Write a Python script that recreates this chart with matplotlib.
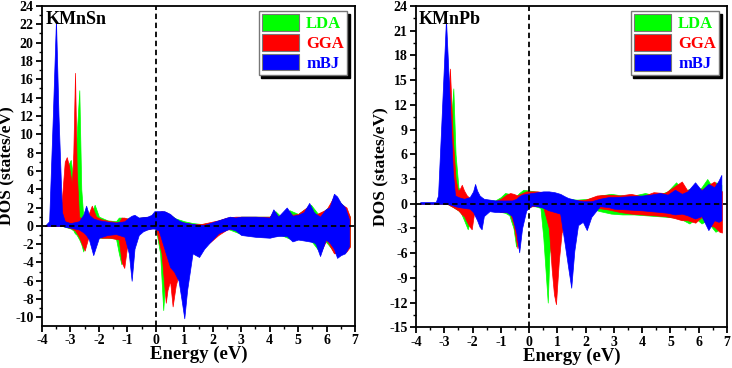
import matplotlib.pyplot as plt
from matplotlib.ticker import MultipleLocator
from matplotlib.patches import Patch

plt.rcParams['font.family'] = ['Liberation Serif', 'DejaVu Serif']
plt.rcParams['font.weight'] = 'bold'
plt.rcParams['axes.unicode_minus'] = False

# ---- KMnSn (left) ----
sn_mbj_e = [-3.9, -3.75, -3.62, -3.51, -3.42, -3.3, -3.2, -3.0, -2.7, -2.55, -2.45, -2.35, -2.2, -2.0, -1.7,
            -1.4, -1.1, -0.95, -0.85, -0.75, -0.6, -0.45, -0.3, -0.15, -0.05, 0.1, 0.3, 0.5, 0.64, 0.8, 0.9,
            1.0, 1.1, 1.29, 1.4, 1.52, 1.7, 1.9, 2.2, 2.6, 2.8, 3.0, 3.5, 4.0, 4.13, 4.3, 4.6, 4.8, 5.0, 5.2,
            5.39, 5.55, 5.62, 5.77, 5.97, 6.1, 6.26, 6.37, 6.5, 6.65, 6.79]
sn_mbj_up = [0, 0.5, 12, 22.5, 12, 1.5, 0.5, 0.3, 0.5, 1.2, 2.2, 1.2, 0.8, 0.6, 0.45, 0.35, 0.5, 0.9, 1.1,
             1.2, 0.9, 0.95, 1.0, 1.2, 1.6, 1.6, 1.6, 1.3, 0.9, 0.6, 0.45, 0.35, 0.3, 0.2, 0.15, 0.1, 0.1,
             0.3, 0.6, 1.0, 0.9, 1.0, 1.0, 0.9, 1.8, 1.0, 2.0, 1.1, 1.2, 1.5, 2.5, 1.5, 1.3, 1.0, 1.8, 2.0,
             3.5, 3.2, 2.5, 2.0, 0.7]
sn_mbj_dn = [0, 0, 0, 0, 0, 0, -0.1, -0.2, -0.4, -0.7, -1.0, -1.5, -3.2, -1.3, -1.0, -0.9, -1.2, -3.0, -6.0,
             -2.5, -1.0, -0.6, -0.4, -0.3, -0.3, -0.5, -2.5, -4.5, -5.0, -6.0, -8.0, -10.1, -7.0, -3.0, -3.2,
             -3.4, -2.5, -1.8, -0.8, -0.3, -0.5, -1.0, -1.2, -1.3, -1.2, -1.1, -1.1, -1.7, -1.5, -1.6, -1.7,
             -1.8, -2.0, -3.3, -1.5, -1.8, -2.5, -3.5, -3.2, -3.0, -2.2]

sn_gga_e = [-3.9, -3.4, -3.3, -3.2, -3.13, -3.05, -2.95, -2.9, -2.84, -2.78, -2.7, -2.6, -2.5, -2.35, -2.25,
            -2.1, -1.9, -1.6, -1.3, -1.2, -1.11, -1.0, -0.8, -0.5, -0.2, 0.0, 0.2, 0.35, 0.41, 0.5, 0.59,
            0.7, 0.76, 0.9, 1.1, 1.3, 1.6, 1.9, 2.2, 2.5, 2.8, 3.0, 3.5, 4.0, 4.15, 4.3, 4.6, 4.8, 5.0, 5.39,
            5.6, 5.8, 6.0, 6.26, 6.5, 6.7, 6.82]
sn_gga_up = [0, 0, 3.0, 7.0, 7.5, 6.5, 4.5, 8.0, 16.7, 6.0, 1.0, 0.8, 0.7, 1.4, 2.2, 1.0, 0.7, 0.5, 0.4, 0.9,
             0.9, 0.8, 0.8, 0.9, 1.0, 1.4, 1.6, 1.5, 1.4, 1.2, 1.0, 0.7, 0.5, 0.4, 0.3, 0.2, 0.2, 0.4, 0.6,
             0.9, 1.0, 1.0, 1.0, 1.0, 1.6, 1.0, 1.7, 1.2, 1.3, 2.2, 1.2, 1.5, 1.8, 3.2, 2.4, 2.0, 1.0]
sn_gga_dn = [0, 0, 0, 0, -0.1, -0.2, -0.3, -0.4, -0.5, -0.8, -1.2, -2.0, -2.7, -1.0, -0.9, -1.2, -1.3, -1.3,
             -1.5, -4.0, -4.6, -2.0, -0.8, -0.5, -0.3, -0.2, -3.0, -8.4, -7.0, -6.0, -8.8, -6.5, -5.8, -4.0,
             -3.0, -2.5, -2.2, -1.8, -1.0, -0.4, -0.3, -0.8, -1.1, -1.2, -1.1, -1.0, -1.0, -1.5, -1.4, -1.5,
             -1.6, -2.8, -1.5, -3.0, -3.0, -2.8, -2.3]

sn_lda_e = [-3.9, -3.3, -3.2, -3.1, -2.99, -2.9, -2.85, -2.78, -2.69, -2.62, -2.55, -2.45, -2.3, -2.15, -2.0,
            -1.7, -1.4, -1.3, -1.21, -1.1, -0.9, -0.5, -0.2, 0.0, 0.15, 0.26, 0.35, 0.5, 0.7, 1.0, 1.3, 1.6,
            1.9, 2.2, 2.5, 3.0, 3.5, 4.0, 4.2, 4.4, 4.7, 5.0, 5.45, 5.7, 5.9, 6.05, 6.3, 6.6, 6.82]
sn_lda_up = [0, 0, 2.5, 6.5, 7.2, 5.0, 6.0, 10.0, 14.8, 4.0, 1.0, 0.8, 1.0, 2.3, 1.0, 0.6, 0.5, 0.9, 0.9, 0.8,
             0.8, 0.9, 1.0, 1.3, 1.5, 1.5, 1.4, 1.2, 0.8, 0.5, 0.3, 0.2, 0.3, 0.5, 0.8, 1.0, 1.0, 1.0, 1.6,
             1.0, 1.7, 1.3, 2.3, 1.3, 1.6, 2.0, 3.0, 2.2, 1.0]
sn_lda_dn = [0, 0, -0.1, -0.2, -0.3, -0.5, -0.8, -1.0, -1.5, -2.0, -2.8, -1.2, -1.0, -1.0, -1.3, -1.3, -1.4,
             -3.0, -4.2, -1.5, -0.7, -0.4, -0.2, -0.3, -3.0, -9.2, -5.0, -4.0, -3.0, -2.6, -2.3, -2.0, -1.6,
             -0.8, -0.3, -0.9, -1.1, -1.2, -1.1, -1.0, -1.4, -1.4, -1.6, -2.6, -1.5, -2.0, -3.0, -2.7, -2.2]

# ---- KMnPb (right) ----
pb_mbj_e = [-3.85, -3.3, -3.22, -3.1, -2.94, -2.8, -2.7, -2.62, -2.5, -2.3, -2.1, -1.98, -1.91, -1.84, -1.75,
            -1.68, -1.6, -1.4, -1.2, -1.0, -0.8, -0.6, -0.45, -0.35, -0.25, -0.1, 0.1, 0.3, 0.5, 0.7, 0.9,
            1.1, 1.26, 1.38, 1.49, 1.6, 1.73, 1.9, 2.04, 2.2, 2.5, 2.8, 3.0, 3.5, 4.0, 4.3, 4.63, 4.9, 5.16,
            5.4, 5.6, 5.87, 6.1, 6.34, 6.55, 6.7, 6.8]
pb_mbj_up = [0.2, 0.2, 1.0, 10.0, 22.4, 12.0, 4.0, 1.0, 0.8, 0.6, 0.8, 1.5, 2.4, 1.6, 1.0, 0.8, 0.6, 0.5, 0.4,
             0.4, 0.4, 0.4, 0.6, 0.9, 1.1, 1.2, 1.3, 1.4, 1.5, 1.5, 1.4, 1.2, 0.9, 0.7, 0.6, 0.5, 0.4, 0.3,
             0.3, 0.3, 0.6, 0.8, 0.8, 0.9, 1.0, 1.1, 1.3, 1.1, 1.7, 1.2, 1.5, 2.6, 1.6, 2.4, 2.0, 2.8, 3.5]
pb_mbj_dn = [0, 0, 0, 0, 0, -0.1, -0.2, -0.3, -0.4, -0.5, -0.6, -1.0, -1.5, -2.0, -2.8, -3.1, -1.5, -0.9,
             -1.0, -1.0, -1.0, -1.5, -3.5, -5.9, -3.0, -0.8, -0.2, -0.3, -0.5, -0.8, -1.0, -1.2, -4.9, -7.7,
             -10.2, -5.7, -2.6, -2.2, -3.2, -1.6, -0.3, -0.4, -0.6, -0.7, -0.8, -0.9, -1.0, -1.1, -1.3, -1.2,
             -1.4, -1.8, -1.5, -3.2, -2.0, -2.2, -2.0]

pb_gga_e = [-3.85, -3.1, -3.0, -2.9, -2.8, -2.7, -2.6, -2.51, -2.45, -2.38, -2.3, -2.2, -2.1, -2.03, -1.95,
            -1.8, -1.5, -1.2, -1.0, -0.8, -0.67, -0.55, -0.41, -0.3, -0.1, 0.1, 0.3, 0.5, 0.7, 0.8, 0.88,
            0.95, 1.05, 1.15, 1.3, 1.6, 2.0, 2.4, 2.8, 3.2, 3.6, 4.0, 4.4, 4.8, 5.1, 5.4, 5.6, 5.88, 6.1,
            6.3, 6.55, 6.73, 6.82]
pb_gga_up = [0.1, 0.1, 2.0, 10.0, 16.4, 8.0, 3.0, 1.5, 1.8, 2.3, 1.6, 1.0, 0.7, 0.6, 0.5, 0.4, 0.3, 0.3, 0.6,
             1.1, 1.3, 1.2, 1.0, 1.2, 1.5, 1.5, 1.5, 1.4, 1.3, 1.2, 1.2, 1.1, 1.0, 0.9, 0.6, 0.4, 0.5, 1.0,
             1.1, 1.0, 1.2, 0.9, 1.4, 1.3, 2.0, 2.7, 1.6, 2.2, 1.7, 2.2, 2.7, 1.8, 1.5]
pb_gga_dn = [0, 0, 0, 0, -0.2, -0.4, -0.6, -0.8, -1.0, -1.3, -1.5, -2.2, -2.8, -3.1, -1.2, -0.6, -0.5, -0.6,
             -1.0, -1.0, -1.2, -2.5, -5.4, -2.0, -0.6, -0.3, -0.3, -0.4, -3.0, -8.0, -11.0, -12.2, -7.0,
             -3.5, -2.5, -1.8, -1.2, -0.5, -0.7, -1.0, -1.2, -1.3, -1.4, -1.5, -1.7, -2.0, -2.0, -2.3, -1.6,
             -2.5, -2.8, -3.4, -3.5]

pb_lda_e = [-3.85, -3.0, -2.9, -2.8, -2.68, -2.6, -2.5, -2.4, -2.3, -2.17, -2.05, -1.9, -1.5, -1.2, -1.0,
            -0.85, -0.7, -0.55, -0.46, -0.35, -0.2, 0.0, 0.2, 0.4, 0.5, 0.6, 0.66, 0.72, 0.85, 1.0, 1.3, 1.7,
            2.1, 2.5, 2.9, 3.3, 3.7, 4.1, 4.5, 4.9, 5.2, 5.45, 5.67, 5.9, 6.1, 6.3, 6.45, 6.59, 6.8]
pb_lda_up = [0.1, 0.1, 1.5, 8.0, 14.0, 6.0, 2.0, 1.3, 0.9, 0.7, 0.6, 0.5, 0.4, 0.4, 0.8, 1.3, 1.2, 1.0, 0.9,
             1.3, 1.7, 1.6, 1.5, 1.4, 1.4, 1.3, 1.3, 1.2, 1.0, 0.8, 0.6, 0.5, 0.6, 1.0, 1.2, 1.0, 1.0, 1.3,
             1.0, 1.5, 2.6, 1.5, 1.8, 1.4, 2.0, 3.0, 2.2, 2.6, 2.3]
pb_lda_dn = [0, 0, 0, -0.2, -0.4, -0.6, -0.8, -1.2, -2.0, -3.1, -1.5, -0.7, -0.6, -0.8, -1.0, -1.1, -1.4,
             -3.0, -5.2, -2.0, -0.5, -0.3, -0.3, -0.5, -4.0, -9.0, -12.0, -6.0, -2.5, -2.0, -1.5, -1.0, -0.5,
             -0.9, -1.2, -1.3, -1.3, -1.4, -1.5, -1.6, -1.7, -2.0, -2.4, -1.8, -2.4, -2.0, -2.8, -3.4, -3.0]

labels = ['LDA', 'GGA', 'mBJ']
colors = ['#00ff00', '#ff0000', '#0000ff']

panels = [
    ('KMnSn', [(sn_lda_e, sn_lda_up, sn_lda_dn), (sn_gga_e, sn_gga_up, sn_gga_dn),
               (sn_mbj_e, sn_mbj_up, sn_mbj_dn)],
     (-10.9, 24), 2, 1, [0.0574, 0.115, 0.4276, 0.8688]),
    ('KMnPb', [(pb_lda_e, pb_lda_up, pb_lda_dn), (pb_gga_e, pb_gga_up, pb_gga_dn),
               (pb_mbj_e, pb_mbj_up, pb_mbj_dn)],
     (-15, 24), 3, 1.5, [0.5683, 0.1106, 0.4249, 0.873]),
]

fig = plt.figure(figsize=(7.32, 3.68), dpi=100)

for name, series, ylim, ymaj, ymin, rect in panels:
    ax = fig.add_axes(rect)
    for (e, up, dn), c in zip(series, colors):
        ax.fill_between(e, up, dn, color=c, linewidth=0.5)
    ax.axvline(0, color='k', ls=(0, (3, 2)), lw=1.3)
    ax.axhline(0, color='k', ls=(0, (3, 2)), lw=1.3)
    ax.set_xlim(-4, 7)
    ax.set_ylim(*ylim)
    ax.xaxis.set_major_locator(MultipleLocator(1))
    ax.xaxis.set_minor_locator(MultipleLocator(0.5))
    ax.yaxis.set_major_locator(MultipleLocator(ymaj))
    ax.yaxis.set_minor_locator(MultipleLocator(ymin))
    ax.tick_params(which='major', direction='out', length=4, width=1.3, labelsize=10, pad=2)
    ax.tick_params(which='minor', direction='out', length=2.5, width=1)
    for s in ax.spines.values():
        s.set_linewidth(1.3)
    for lab in ax.get_xticklabels() + ax.get_yticklabels():
        lab.set_fontweight('bold')
    ax.set_xlabel('Energy (eV)', fontsize=13.5, fontweight='bold', labelpad=-1)
    ax.set_ylabel('DOS (states/eV)', fontsize=12.5, fontweight='bold', labelpad=0)
    ax.text(0.01, 0.985, name, transform=ax.transAxes, ha='left', va='top',
            fontsize=13, fontweight='bold')
    handles = [Patch(facecolor=c, edgecolor='#777777', lw=0.8) for c in colors]
    leg = ax.legend(handles, labels, loc='upper right', bbox_to_anchor=(0.975, 0.985),
                    handlelength=2.2, handleheight=1.15, handletextpad=0.45,
                    labelspacing=0.12, borderpad=0.2, borderaxespad=0,
                    fancybox=False, edgecolor='#777777', framealpha=1,
                    shadow={'color': 'k', 'alpha': 1},
                    prop={'size': 12, 'weight': 'bold'})
    for t, c in zip(leg.get_texts(), colors):
        t.set_color(c)

fig.savefig('out.png', dpi=100)
